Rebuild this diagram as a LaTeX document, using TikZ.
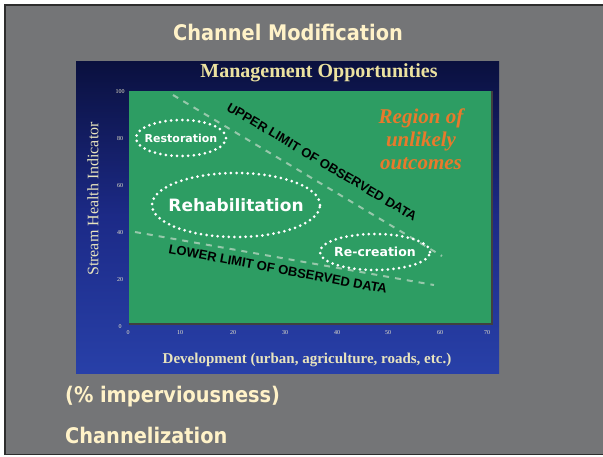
\documentclass[tikz,border=0pt]{standalone}
\usepackage{fontspec}
\setmainfont{Liberation Serif}
\newfontfamily\slidefont{DejaVu Sans Condensed}
\newfontfamily\arialf{Liberation Sans}
\newfontfamily\dejavu{DejaVu Sans}
\definecolor{slidegray}{RGB}{116,117,119}
\definecolor{frame}{RGB}{45,45,45}
\definecolor{cream}{RGB}{255,242,200}
\definecolor{navytop}{RGB}{10,16,62}
\definecolor{navymid}{RGB}{28,42,135}
\definecolor{navybot}{RGB}{40,64,168}
\definecolor{chartgreen}{RGB}{45,157,99}
\definecolor{mgmtyellow}{RGB}{236,226,160}
\definecolor{axiscream}{RGB}{232,228,190}
\definecolor{regionorange}{RGB}{232,122,44}
\definecolor{dashgray}{RGB}{150,200,170}
\tikzset{
  slidetext/.style={text=cream, font=\slidefont\bfseries\fontsize{21.5}{25}\selectfont, inner sep=0pt},
  dotline/.style={draw=white, line width=3pt, dash pattern=on 0pt off 5.6pt, line cap=round},
  elltext/.style={text=white, inner sep=0pt},
  limittext/.style={font=\arialf\bfseries\fontsize{13}{15}\selectfont, text=black, inner sep=0pt},
  limitline/.style={draw=dashgray, line width=2pt, dash pattern=on 6pt off 6pt},
  ticklabel/.style={font=\fontsize{6}{7}\selectfont, text=axiscream!80, inner sep=0pt},
}
\begin{document}
\begin{tikzpicture}[x=1pt,y=-1pt]
\useasboundingbox (0,0) rectangle (603,456);
\fill[white] (0,0) rectangle (603,456);
\draw[fill=slidegray, draw=frame, line width=1.2pt] (5,5) rectangle (612,454.5);
% chart image
\shade[top color=navytop, bottom color=navybot, middle color=navymid] (76,61) rectangle (499,373);
\fill[chartgreen] (129,91) rectangle (492,324);
\draw[black!75, line width=1.5pt] (129,324) -- (492,324) -- (492,91);
% texts of the slide
\node[slidetext] (title) at (288,32) {Channel Modification};
\node[slidetext, anchor=west] (imperv) at (65,397) {(\% imperviousness)};
\node[slidetext, anchor=west] (chan) at (65,435) {Channelization};
% chart title and axes
\node[font=\bfseries\fontsize{20}{23}\selectfont, text=mgmtyellow, inner sep=0pt] (mgmt) at (319,73) {Management Opportunities};
\node[font=\fontsize{16}{18}\selectfont, text=axiscream, rotate=90, inner sep=0pt] (ylab) at (93,199) {Stream Health Indicator};
\node[font=\bfseries\fontsize{15}{17}\selectfont, text=axiscream, inner sep=0pt] (xlab) at (307,360) {Development (urban, agriculture, roads, etc.)};
\foreach \v/\y in {100/92,80/139,60/186,40/233,20/280,0/327}
  \node[ticklabel] (yt\v) at (120,\y) {\v};
\foreach \v/\x in {0/128,10/180,20/233,30/285,40/337,50/388,60/440,70/487}
  \node[ticklabel] (xt\v) at (\x,333) {\v};
% limit lines
\coordinate (ua) at (173,95);
\coordinate (ub) at (442,256);
\coordinate (la) at (135,232);
\coordinate (lb) at (434,285);
\draw[limitline] (ua) -- (ub);
\draw[limitline] (la) -- (lb);
\node[limittext, rotate=-30.7] (upper) at (322,162) {UPPER LIMIT OF OBSERVED DATA};
\node[limittext, rotate=-10.5] (lower) at (278,269) {LOWER LIMIT OF OBSERVED DATA};
% ellipses
\node[elltext, font=\dejavu\bfseries\fontsize{11}{13}\selectfont] (rest) at (181,138) {Restoration};
\node[elltext, font=\dejavu\bfseries\fontsize{17}{20}\selectfont] (rehab) at (236,205) {Rehabilitation};
\node[elltext, font=\dejavu\bfseries\fontsize{12.5}{15}\selectfont] (recr) at (375,252) {Re-creation};
\draw[dotline] (rest.center) ellipse [x radius=45pt, y radius=18pt];
\draw[dotline] (rehab.center) ellipse [x radius=84pt, y radius=32pt];
\draw[dotline] (recr.center) ellipse [x radius=55pt, y radius=18pt];
% region text
\node[align=center, text=regionorange, font=\bfseries\itshape\fontsize{21}{23}\selectfont, inner sep=0pt] (region) at (421,139) {Region of\\unlikely\\outcomes};
\end{tikzpicture}
\end{document}
